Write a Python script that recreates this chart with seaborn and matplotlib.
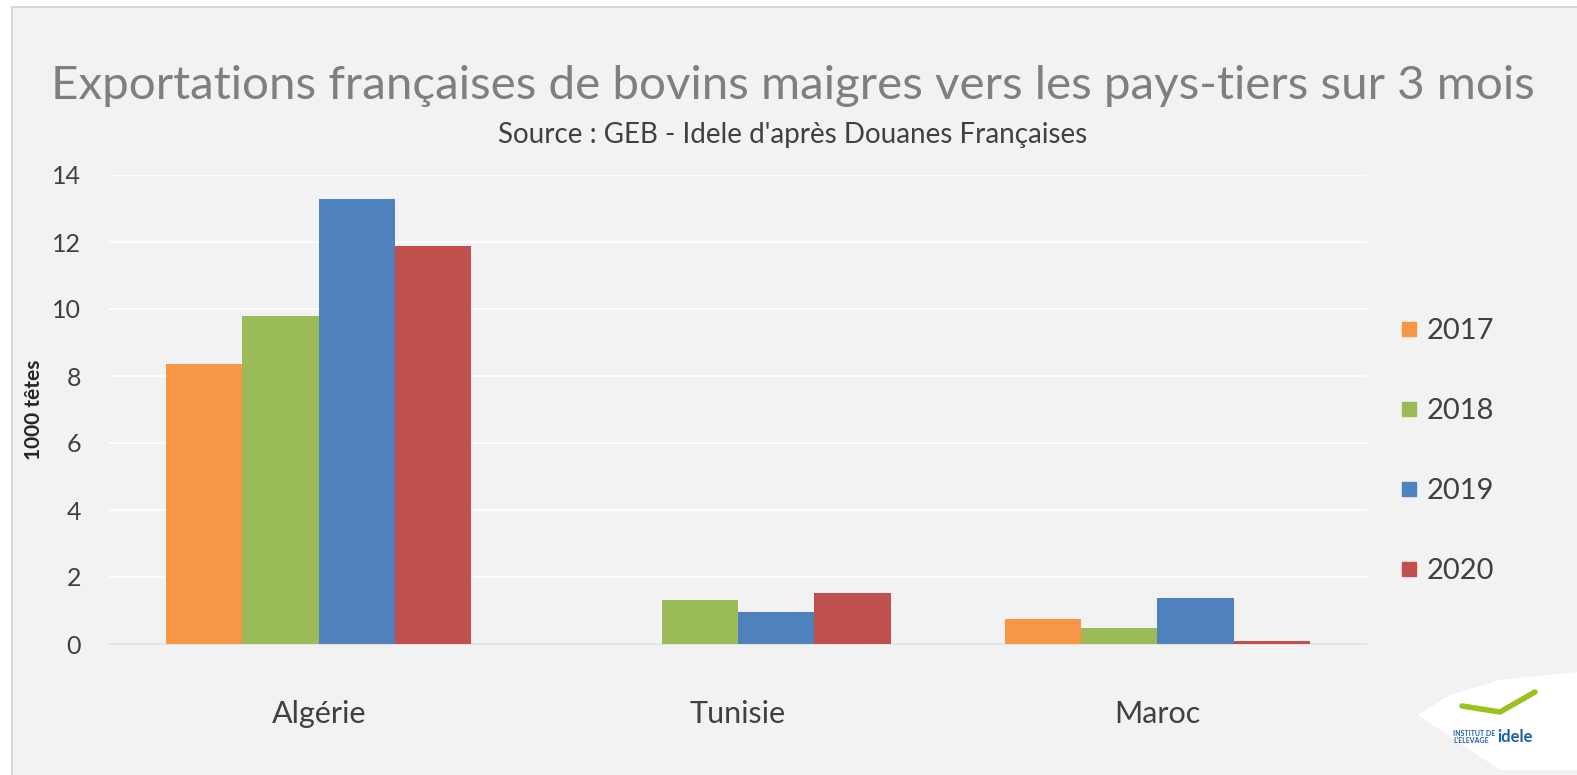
import matplotlib
matplotlib.use("Agg")
import matplotlib.pyplot as plt
import seaborn as sns
import pandas as pd
import numpy as np
from matplotlib.patches import Rectangle, Polygon
from matplotlib.lines import Line2D

countries = ["Algérie", "Tunisie", "Maroc"]
years = ["2017", "2018", "2019", "2020"]
v2017 = [8.36, 0.0, 0.76]
v2018 = [9.80, 1.31, 0.47]
v2019 = [13.28, 0.96, 1.37]
v2020 = [11.87, 1.52, 0.08]
colors = ["#f79646", "#9bbb59", "#4f81bd", "#c0504d"]

title = "Exportations françaises de bovins maigres vers les pays-tiers sur 3 mois"
subtitle = "Source : GEB - Idele d'après Douanes Françaises"
ylabel = "1000 têtes"

rows = []
for y, vals in zip(years, [v2017, v2018, v2019, v2020]):
    for c, v in zip(countries, vals):
        rows.append({"pays": c, "annee": y, "valeur": v})
df = pd.DataFrame(rows)

sns.set_theme(style="white")
plt.rcParams['font.family'] = ['Lato', 'DejaVu Sans']

W, H = 1577, 775
fig = plt.figure(figsize=(W / 100, H / 100), dpi=100)
fig.patch.set_facecolor("white")
# background frame
bg = Rectangle((12 / W, -0.01), 1.0, 1.01 - 7 / H, transform=fig.transFigure,
               facecolor="#f2f2f2", edgecolor="#d0d0d0", linewidth=1.2, zorder=-10)
fig.patches.append(bg)

ax = fig.add_axes([109 / W, (H - 644) / H, (1367 - 109) / W, (644 - 175) / H])
ax.set_zorder(1)
ax.patch.set_alpha(0)

sns.barplot(data=df, x="pays", y="valeur", hue="annee", order=countries, hue_order=years,
            palette=colors, width=0.728, saturation=1, ax=ax, legend=False, zorder=3,
            linewidth=0, edgecolor="none")

ax.set_ylim(0, 14)
ax.set_xlim(-0.5, 2.5)
ax.set_yticks(np.arange(0, 15, 2))
ax.set_yticklabels([str(t) for t in range(0, 15, 2)], fontsize=18, color="#404040")
ax.yaxis.grid(True, color="white", linewidth=1.2, zorder=0)
ax.set_axisbelow(True)
for s in ["top", "right", "left"]:
    ax.spines[s].set_visible(False)
ax.spines["bottom"].set_color("#e0e0e0")
ax.spines["bottom"].set_linewidth(1.2)
ax.tick_params(axis="y", length=0, pad=20)
ax.tick_params(axis="x", which="major", length=0, pad=40, labelsize=22, labelcolor="#404040")
ax.set_xticks([-0.5, 0.5, 1.5, 2.5], minor=True)
ax.tick_params(axis="x", which="minor", length=10, color="#dcdcdc", width=1.2)
ax.set_xlabel("")
ax.set_ylabel(ylabel, fontsize=15, fontweight="bold", color="#262626", labelpad=6)

fig.text(0.5 + 4 / W, 1 - 86 / H, title, ha="center", va="center", fontsize=34.2,
         color="#7f7f7f")
fig.text(0.5 + 4 / W, 1 - 135 / H, subtitle, ha="center", va="center", fontsize=20,
         color="#404040")

# legend
handles = [Line2D([0], [0], marker="s", linestyle="", markersize=10.5, markerfacecolor=c,
                  markeredgecolor=c) for c in colors]
leg = fig.legend(handles, years, loc="center left", bbox_to_anchor=(1368 / W, 1 - 451 / H),
                 frameon=False, fontsize=21, labelspacing=1.85, handletextpad=0.1,
                 handlelength=1.0, labelcolor="#404040")

# logo
fig.patches.append(Polygon([[1418 / W, 1 - 715 / H], [1450 / W, 1 - 695 / H], [1500 / W, 1 - 680 / H],
                            [1577 / W, 1 - 672 / H],
                            [1577 / W, 1 - 770 / H], [1500 / W, 1 - 770 / H]],
                           closed=True, transform=fig.transFigure, facecolor="white",
                           edgecolor="none", zorder=2))
fig.lines.append(Line2D([1462 / W, 1500 / W, 1535 / W], [1 - 706 / H, 1 - 712 / H, 1 - 692 / H],
                        transform=fig.transFigure, color="#9cc21f", linewidth=4, zorder=3))
fig.text(1453 / W, 1 - 737 / H, "INSTITUT DE\nL'ELEVAGE", fontsize=5, fontweight="bold",
         color="#1d5ea8", va="center", ha="left", linespacing=1.0, zorder=4)
fig.text(1497 / W, 1 - 737 / H, "idele", fontsize=12, fontweight="bold",
         color="#1d5ea8", va="center", ha="left", zorder=4)

fig.savefig("out.png", dpi=100, facecolor=fig.get_facecolor())
